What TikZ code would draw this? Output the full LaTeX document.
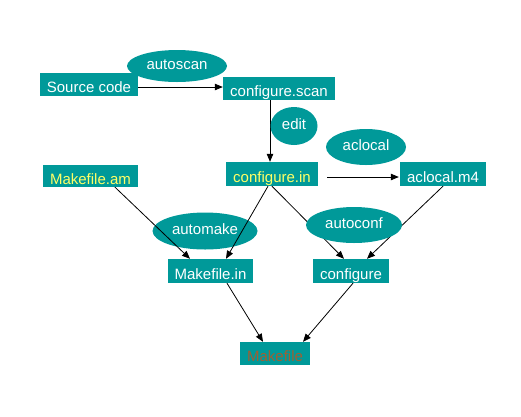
\documentclass[tikz,border=0pt]{standalone}
\usepackage{fontspec}
\setmainfont{Liberation Sans}
\usetikzlibrary{arrows.meta,shapes.geometric}
\definecolor{boxteal}{RGB}{0,153,153}
\definecolor{srcyellow}{RGB}{255,255,102}
\definecolor{mkbrown}{RGB}{160,95,50}
\begin{document}
\begin{tikzpicture}[x=1pt,y=-1pt,
  box/.style={fill=boxteal, text=white, inner sep=0pt, minimum height=23pt,
    text height=18pt, text depth=2pt,
    font=\fontsize{15}{17}\selectfont},
  tool/.style={ellipse, fill=boxteal, text=white, inner sep=0pt,
    text height=10pt, text depth=4pt,
    font=\fontsize{15}{17}\selectfont},
  flow/.style={-{Triangle[length=8pt,width=6.5pt]}, line width=0.8pt}]
\useasboundingbox (0,0) rectangle (521,416);

% tool that sits beneath the connectors
\node[tool, minimum width=105pt, minimum height=37pt] (automake) at (205,231) {automake};

% files
\node[box, minimum width=98pt] (src) at (89,84.5) {Source code};
\node[box, minimum width=112pt] (scan) at (279,88.5) {configure.scan};
\node[box, minimum width=92pt, minimum height=24pt, text=srcyellow] (cin) at (272,174) {configure.in};
\node[box, minimum width=86pt, minimum height=24pt] (m4) at (443,174) {aclocal.m4};
\node[box, minimum width=95pt, minimum height=22pt, text=srcyellow] (mam) at (90.5,176) {Makefile.am};
\node[box, minimum width=85pt, minimum height=24pt] (min) at (210.5,271) {Makefile.in};
\node[box, minimum width=76pt, minimum height=24pt] (conf) at (351,271) {configure};
\node[box, minimum width=70pt, text=mkbrown] (mk) at (275,353.5) {Makefile};

% connectors
\draw[flow] ([yshift=-2.5pt]src.east) -- ([yshift=1.5pt]scan.west);
\draw[flow] ([xshift=-9pt]scan.south) -- ([xshift=-2pt]cin.north);
\draw[flow] ([shift={(9pt,-3pt)}]cin.east) -- ([shift={(-1pt,-3pt)}]m4.west);
\draw[flow] ([xshift=24.5pt]mam.south) -- ([xshift=-20.5pt]min.north);
\draw[flow] ([xshift=-4pt]cin.south) -- ([xshift=15.5pt]min.north);
\draw[flow] (cin.south) -- ([xshift=-7pt]conf.north);
\draw[flow] (m4.south) -- ([xshift=16pt]conf.north);
\draw[flow] ([xshift=16.5pt]min.south) -- ([xshift=-12pt]mk.north);
\draw[flow] ([xshift=2pt]conf.south) -- ([xshift=28pt]mk.north);

% tools drawn over the connectors
\node[tool, minimum width=100pt, minimum height=32pt] (autoscan) at (177,66) {autoscan};
\node[tool, minimum width=47pt, minimum height=38pt] (edit) at (294,126) {edit};
\node[tool, minimum width=80pt, minimum height=36pt] (aclocal) at (366,147) {aclocal};
\node[tool, minimum width=96pt, minimum height=36pt] (autoconf) at (354,225) {autoconf};
\end{tikzpicture}
\end{document}
